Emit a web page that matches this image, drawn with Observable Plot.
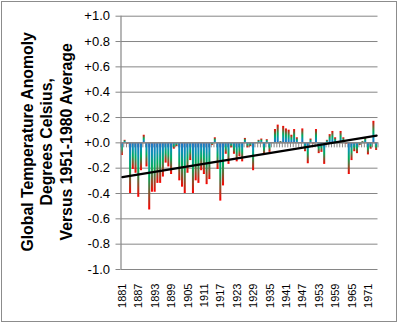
<!DOCTYPE html>
<html><head><meta charset="utf-8">
<script src="https://cdn.jsdelivr.net/npm/d3@7"></script>
<script src="https://cdn.jsdelivr.net/npm/@observablehq/plot@0.6"></script>
<style>
body{margin:0;background:#fff;}
#wrap{position:relative;width:400px;height:327px;overflow:hidden;}
#frame{position:absolute;left:1px;top:1px;width:396px;height:321px;border:1px solid #8c8c8c;box-sizing:border-box;pointer-events:none;}
</style></head><body>
<div id="wrap"><div id="chart"></div><div id="frame"></div></div>
<script>
const startYear = 1881;
const anomalies = [
  -0.10, 0.02, -0.01, -0.40, -0.21, -0.24, -0.43, -0.22, 0.06, -0.19,
  -0.53, -0.39, -0.39, -0.32, -0.32, -0.27, -0.16, -0.19, -0.25, -0.05,
  -0.03, -0.30, -0.35, -0.40, -0.24, -0.14, -0.40, -0.30, -0.32, -0.22,
  -0.25, -0.33, -0.29, -0.02, 0.04, -0.21, -0.46, -0.34, -0.09, -0.17,
  -0.04, -0.09, -0.15, -0.11, -0.15, 0.035, -0.04, -0.03, -0.22, 0.00,
  0.02, 0.03, -0.10, 0.025, -0.075, 0.00, 0.105, 0.14, 0.01, 0.13,
  0.11, 0.10, 0.06, 0.105, 0.04, 0.00, 0.11, -0.07, -0.165, 0.03,
  -0.01, 0.105, -0.085, -0.075, -0.17, 0.02, 0.065, 0.09, 0.04, 0.00,
  0.09, 0.04, -0.01, -0.25, -0.14, -0.07, -0.085, -0.02, 0.01, 0.04,
  -0.095, -0.05, 0.17, -0.06
];
const xTickLabels = ["1881","1887","1893","1899","1905","1911","1917","1923","1929","1935","1941","1947","1953","1959","1965","1971"];
const yTickValues = [-1.0, -0.8, -0.6, -0.4, -0.2, 0.0, 0.2, 0.4, 0.6, 0.8, 1.0];
const titleLines = ["Global Temperature Anomoly", "Degrees Celsius,", "Versus 1951-1980 Average"];

const data = anomalies.map((v, i) => ({year: startYear + i, value: v}));
const endYear = startYear + anomalies.length;
const boundaries = d3.range(startYear, endYear + 1);
const gray = "#868686";
const fmtY = d => Math.abs(d) < 1e-9 ? "+0.0" : (d > 0 ? "+" : "") + d.toFixed(1);

const chart = Plot.plot({
  width: 400, height: 327,
  marginLeft: 120.5, marginRight: 22.5, marginTop: 15.7, marginBottom: 58,
  style: {fontFamily: "'Liberation Sans', Arial, sans-serif", background: "transparent", overflow: "visible"},
  x: {type: "linear", domain: [startYear, endYear], axis: null},
  y: {domain: [-1, 1], axis: null},
  marks: [
    Plot.gridY(yTickValues, {stroke: gray, strokeOpacity: 1, strokeWidth: 1}),
    Plot.ruleX(boundaries, {x: d => d, y1: 0, y2: 0, insetBottom: -5, stroke: gray, strokeWidth: 1}),
    Plot.rectY(data.filter(d => d.value < 0), {x1: "year", x2: d => d.year + 1, y1: 0, y2: "value", fill: "url(#gNeg)", insetLeft: 0.35, insetRight: 0.35}),
    Plot.rectY(data.filter(d => d.value >= 0), {x1: "year", x2: d => d.year + 1, y1: 0, y2: "value", fill: "url(#gPos)", insetLeft: 0.35, insetRight: 0.35}),
    Plot.ruleY([0], {stroke: gray, strokeWidth: 1.5}),
    Plot.ruleX([startYear], {y1: -1, y2: 1, stroke: gray, strokeWidth: 1.2}),
    Plot.axisY(yTickValues, {tickFormat: fmtY, tickSize: 5, tickPadding: 6, fontSize: 13, stroke: gray, fill: "#000", label: null, anchor: "left"}),
    Plot.axisX(xTickLabels.map(s => +s + 0.5), {tickFormat: d => String(d - 0.5), tickRotate: -90, tickSize: 0, tickPadding: 14, fontSize: 11, fill: "#000", label: null, anchor: "bottom"}),
    Plot.linearRegressionY(data, {x: d => d.year + 0.5, y: "value", stroke: "#000", strokeWidth: 2.2, ci: 0}),
    Plot.text([titleLines.join("\n")], {text: d => d, frameAnchor: "left", rotate: -90, textAnchor: "middle", lineAnchor: "middle", lineHeight: 1.23, fontSize: 15.8, fontWeight: "bold", dx: -74.8, dy: -1, fill: "#000"})
  ]
});

const svg = d3.select(chart);
const defs = svg.insert("defs", ":first-child");
function grad(id, y1, y2) {
  const g = defs.append("linearGradient").attr("id", id).attr("x1", 0).attr("x2", 0).attr("y1", y1).attr("y2", y2);
  [[0, "#2470c8"], [0.22, "#0a90b4"], [0.5, "#00ac5c"], [1, "#ff0000"]].forEach(([o, c]) =>
    g.append("stop").attr("offset", o).attr("stop-color", c));
}
grad("gNeg", 0, 1);
grad("gPos", 1, 0);
document.getElementById("chart").appendChild(chart);
</script>
</body></html>
